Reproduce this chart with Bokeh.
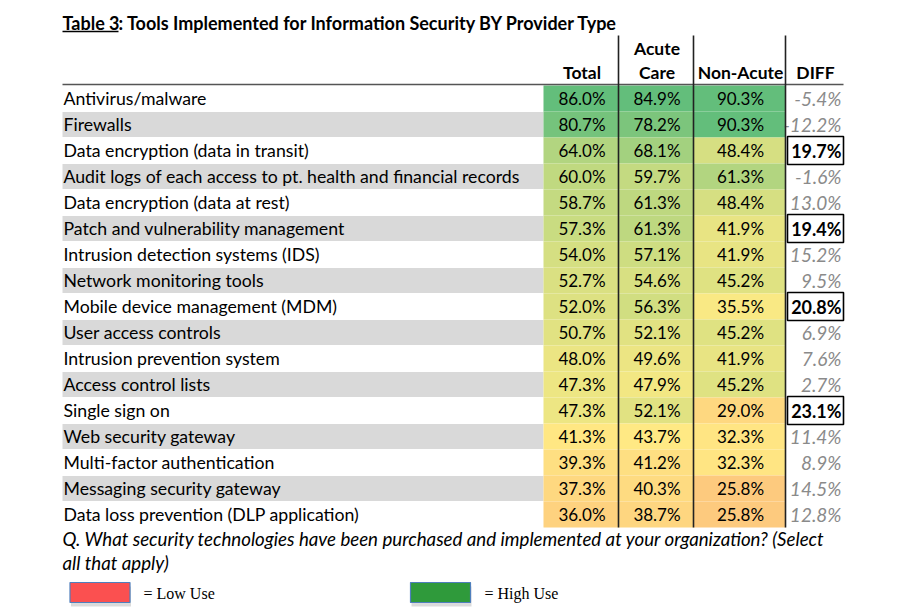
from bokeh.plotting import figure
from bokeh.models import ColumnDataSource, Range1d, LinearColorMapper
from bokeh.core.properties import value
from bokeh.embed import file_html
from bokeh.resources import INLINE
import numpy as np

# ---------------- data ----------------
tools = [
    "Antivirus/malware",
    "Firewalls",
    "Data encryption (data in transit)",
    "Audit logs of each access to pt. health and financial records",
    "Data encryption (data at rest)",
    "Patch and vulnerability management",
    "Intrusion detection systems (IDS)",
    "Network monitoring tools",
    "Mobile device management (MDM)",
    "User access controls",
    "Intrusion prevention system",
    "Access control lists",
    "Single sign on",
    "Web security gateway",
    "Multi-factor authentication",
    "Messaging security gateway",
    "Data loss prevention (DLP application)",
]
total = [86.0, 80.7, 64.0, 60.0, 58.7, 57.3, 54.0, 52.7, 52.0, 50.7, 48.0, 47.3, 47.3, 41.3, 39.3, 37.3, 36.0]
acute = [84.9, 78.2, 68.1, 59.7, 61.3, 61.3, 57.1, 54.6, 56.3, 52.1, 49.6, 47.9, 52.1, 43.7, 41.2, 40.3, 38.7]
non_acute = [90.3, 90.3, 48.4, 61.3, 48.4, 41.9, 41.9, 45.2, 35.5, 45.2, 41.9, 45.2, 29.0, 32.3, 32.3, 25.8, 25.8]
diff = [-5.4, -12.2, 19.7, -1.6, 13.0, 19.4, 15.2, 9.5, 20.8, 6.9, 7.6, 2.7, 23.1, 11.4, 8.9, 14.5, 12.8]
headers = ["Total", "Care", "Non-Acute", "DIFF"]
header_top = "Acute"
title_a = "Table 3"
title_b = ": Tools Implemented for Information Security BY Provider Type"
note1 = "Q. What security technologies have been purchased and implemented at your organization? (Select"
note2 = "all that apply)"
legend_labels = ["= Low Use", "= High Use"]
HIGHLIGHT = 19.0

# ---------------- layout (pixels) ----------------
W, H = 884, 607
ROW_TOP = 85
ROW_H = 26
LEFT = 62
COL_EDGES = [543, 618, 693, 785, 843]
FONT = value("Lato")

def three_color_palette(low, mid, high, n=256):
    red = np.array([0xF8, 0x69, 0x6B], float)
    yel = np.array([0xFF, 0xEB, 0x84], float)
    grn = np.array([0x63, 0xBE, 0x7B], float)
    vals = np.linspace(low, high, n)
    out = []
    for v in vals:
        if v <= mid:
            t = (v - low) / (mid - low)
            c = red + (yel - red) * t
        else:
            t = (v - mid) / (high - mid)
            c = yel + (grn - yel) * t
        out.append("#%02x%02x%02x" % tuple(int(round(x)) for x in c))
    return out

n = len(tools)
ys = [ROW_TOP + (i + 0.5) * ROW_H for i in range(n)]
src = ColumnDataSource(dict(
    y=ys, tool=tools, total=total, acute=acute, non_acute=non_acute, diff=diff,
    total_s=[f"{v:.1f}%" for v in total],
    acute_s=[f"{v:.1f}%" for v in acute],
    non_s=[f"{v:.1f}%" for v in non_acute],
))

p = figure(width=W, height=H, x_range=Range1d(0, W), y_range=Range1d(H, 0),
           output_backend="svg", toolbar_location=None, min_border=0)
p.axis.visible = False
p.grid.visible = False
p.outline_line_color = None
p.background_fill_color = "white"

# stripes
stripe_y = [ys[i] for i in range(n) if i % 2 == 1]
p.rect(x=(LEFT + COL_EDGES[0]) / 2, y=stripe_y, width=COL_EDGES[0] - LEFT, height=ROW_H - 1,
       fill_color="#d9d9d9", line_color=None)

# colored cells
mappers = [
    ("total", "total_s", LinearColorMapper(palette=three_color_palette(9, 42.3, 86.0), low=9, high=86.0)),
    ("acute", "acute_s", LinearColorMapper(palette=three_color_palette(9, 44.5, 84.9), low=9, high=84.9)),
    ("non_acute", "non_s", LinearColorMapper(palette=three_color_palette(2.5, 33.5, 90.3), low=2.5, high=90.3)),
]
for j, (field, sfield, mapper) in enumerate(mappers):
    x0, x1 = COL_EDGES[j], COL_EDGES[j + 1]
    p.rect(x=(x0 + x1) / 2, y="y", width=x1 - x0, height=ROW_H, source=src,
           fill_color={"field": field, "transform": mapper}, line_color=None)
    p.text(x=(x0 + x1) / 2 + 1, y="y", text=sfield, source=src, text_align="center",
           text_baseline="middle", text_font=FONT, text_font_size="17px", text_color="black")

# labels
p.text(x=LEFT + 1, y="y", text="tool", source=src, text_align="left", text_baseline="middle",
       text_font=FONT, text_font_size="17.7px", text_color="black")

# DIFF column
dx0, dx1 = COL_EDGES[3], COL_EDGES[4]
hi_y = [ys[i] for i in range(n) if diff[i] >= HIGHLIGHT]
hi_s = [f"{diff[i]:.1f}%" for i in range(n) if diff[i] >= HIGHLIGHT]
lo_y = [ys[i] for i in range(n) if diff[i] < HIGHLIGHT]
lo_s = [f"{diff[i]:.1f}%" for i in range(n) if diff[i] < HIGHLIGHT]
p.rect(x=(dx0 + dx1) / 2 + 1, y=hi_y, width=dx1 - dx0 - 2, height=ROW_H + 2,
       fill_color="white", line_color="black", line_width=1.6)
p.text(x=dx1 - 2, y=hi_y, text=hi_s, text_align="right", text_baseline="middle",
       text_font=FONT, text_font_size="18px", text_font_style="bold", text_color="black")
p.text(x=dx1 - 2, y=lo_y, text=lo_s, text_align="right", text_baseline="middle",
       text_font=FONT, text_font_size="19px", text_font_style="italic", text_color="#8a8a8a")

# grid lines
p.segment(x0=LEFT, x1=dx1, y0=84, y1=84, line_color="#555555", line_width=1.5)
for xe in COL_EDGES[1:4]:
    p.segment(x0=xe, x1=xe, y0=35, y1=ROW_TOP + n * ROW_H, line_color="#222222", line_width=1.6)

# headers
hy = 72
for j, h in enumerate(headers):
    x0, x1 = COL_EDGES[j], COL_EDGES[j + 1]
    p.text(x=(x0 + x1) / 2 + 1, y=hy, text=[h], text_align="center", text_baseline="middle",
           text_font=FONT, text_font_size="17.5px", text_font_style="bold", text_color="black")
p.text(x=(COL_EDGES[1] + COL_EDGES[2]) / 2 + 1, y=48, text=[header_top], text_align="center",
       text_baseline="middle", text_font=FONT, text_font_size="17.5px", text_font_style="bold",
       text_color="black")

# title
ty = 22
p.text(x=LEFT, y=ty, text=[title_a], text_align="left", text_baseline="middle",
       text_font=FONT, text_font_size="18px", text_font_style="bold", text_color="black")
p.text(x=LEFT + 56, y=ty, text=[title_b], text_align="left", text_baseline="middle",
       text_font=FONT, text_font_size="18px", text_font_style="bold", text_color="black")
p.segment(x0=LEFT, x1=LEFT + 56, y0=31, y1=31, line_color="black", line_width=1.3)

# note
p.text(x=LEFT, y=[538, 562], text=[note1, note2], text_align="left", text_baseline="middle",
       text_font=FONT, text_font_size="18.7px", text_font_style="italic", text_color="black")

# legend
for cx, col, lab, tx in [(99.5, "#fb5050", legend_labels[0], 143),
                         (440, "#2f9a3b", legend_labels[1], 484)]:
    p.rect(x=cx + 1, y=596, width=60, height=20, fill_color="#999999", fill_alpha=0.35, line_color=None)
    p.rect(x=cx, y=592, width=60, height=20, fill_color=col, line_color="#4f7fbd", line_width=1.2)
    p.text(x=tx, y=593, text=[lab], text_align="left", text_baseline="middle",
           text_font=value("Liberation Serif"), text_font_size="16px", text_color="black")

open("out.html", "w").write(file_html(p, INLINE))
